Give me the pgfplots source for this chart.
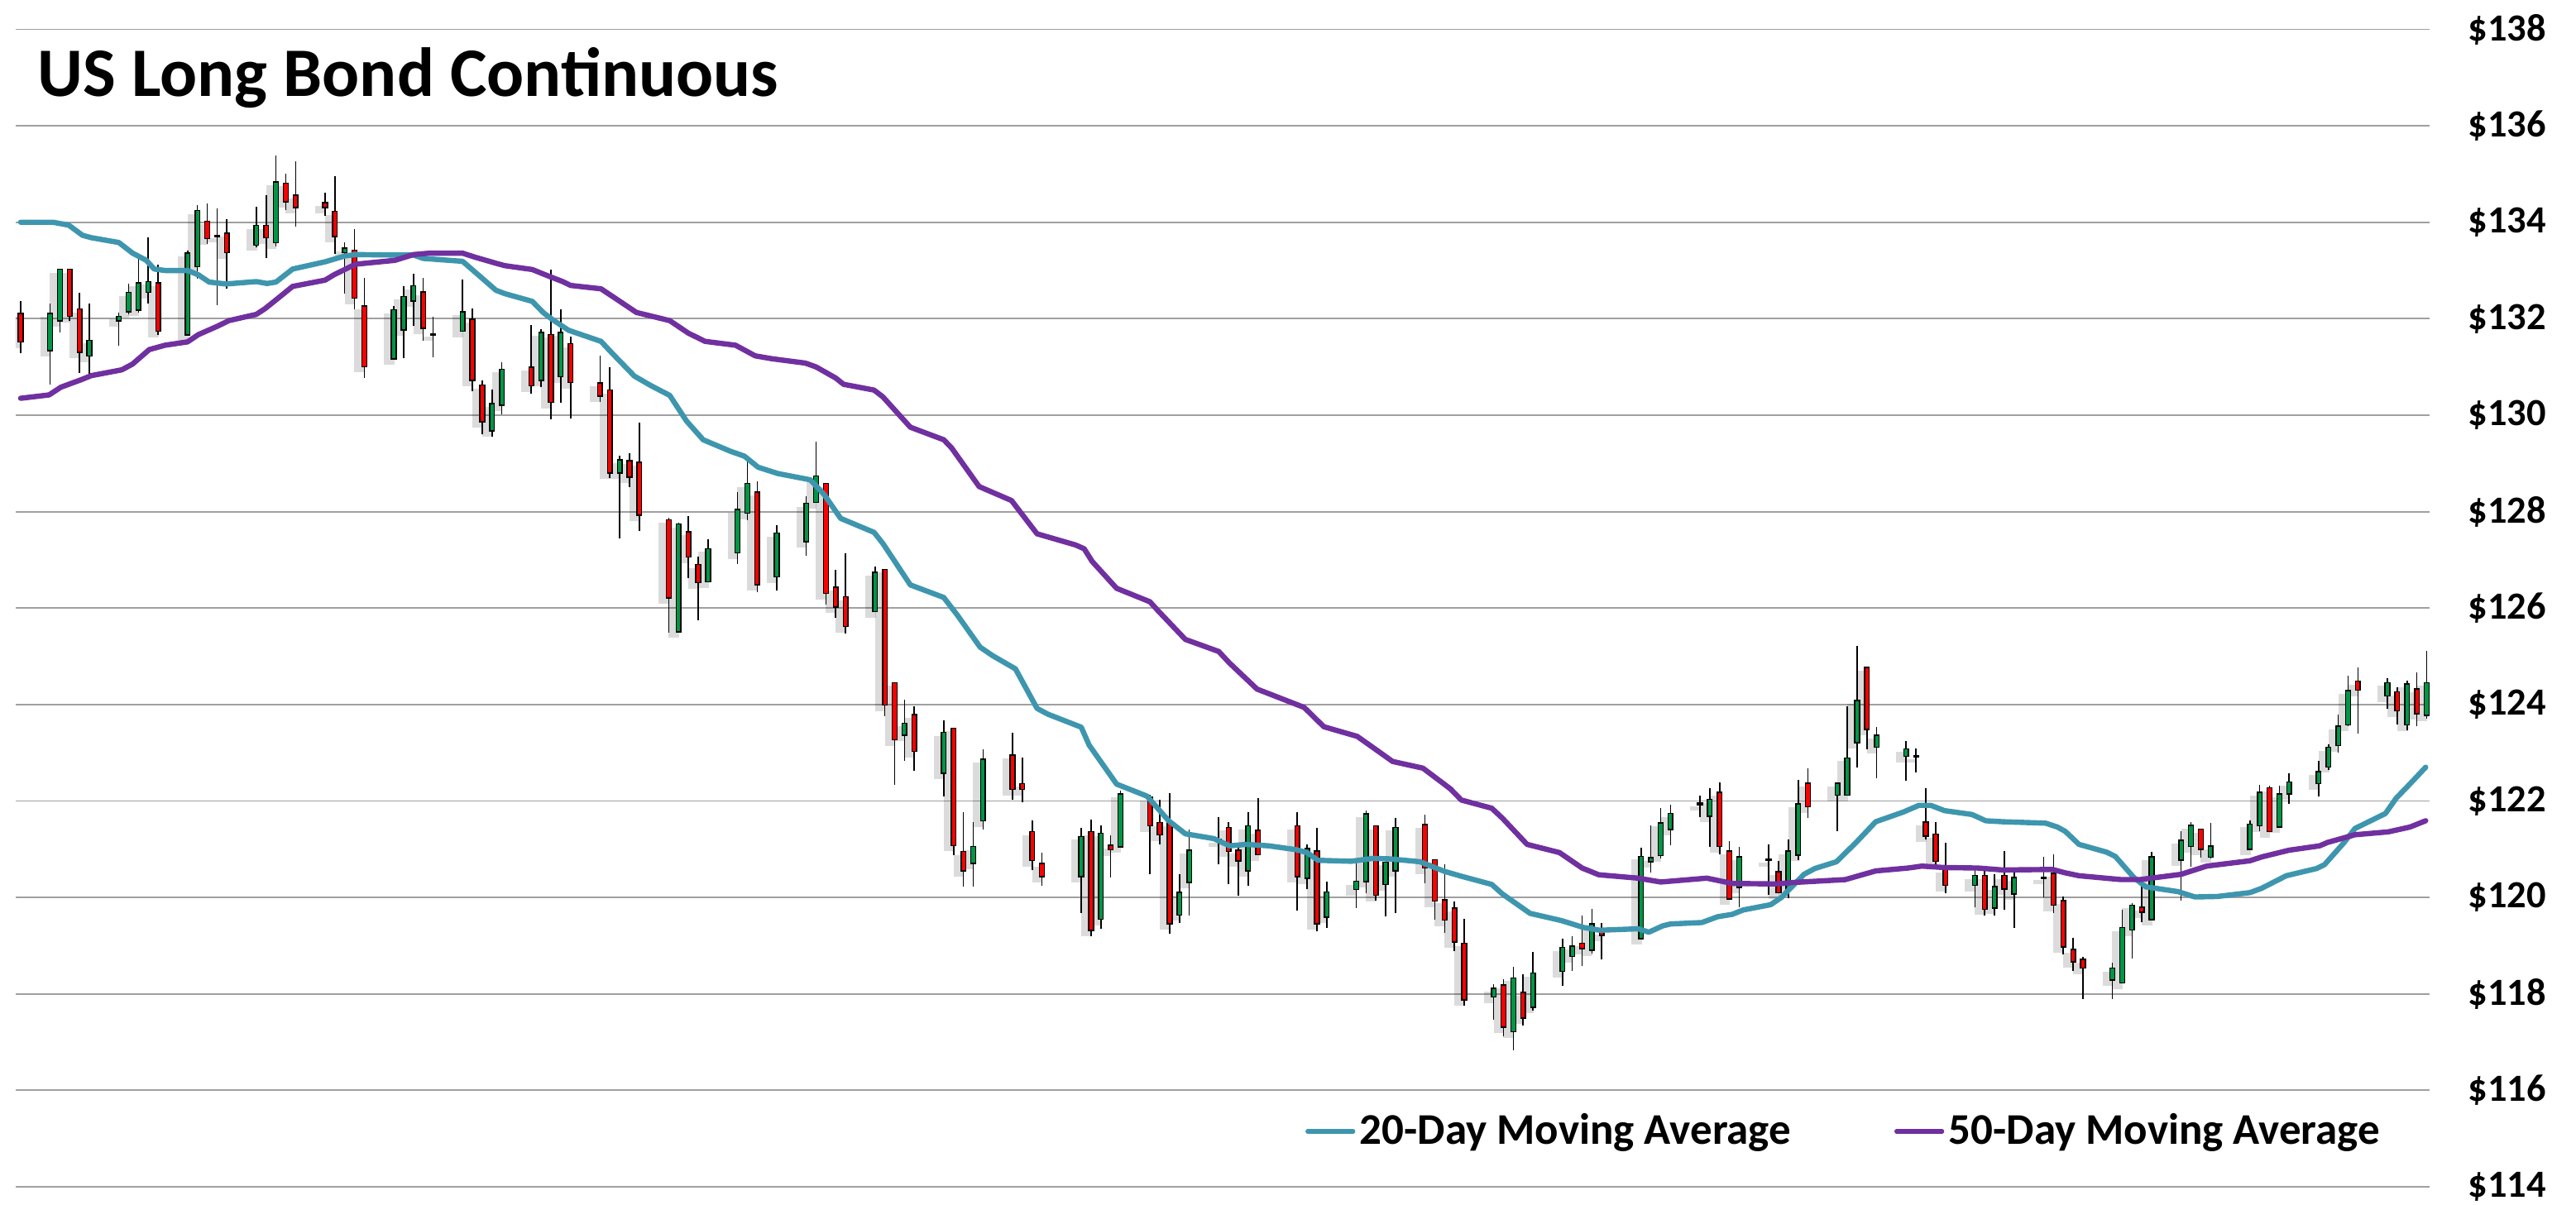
\documentclass[border=0pt]{standalone}
\usepackage{pgfplots}
\pgfplotsset{compat=1.18}
\usepackage{pgfplotstable}
\usepackage{fontspec}
\setmainfont{Carlito}
\definecolor{maTeal}{RGB}{62,150,174}
\definecolor{maPurple}{RGB}{112,48,160}
\definecolor{cGreen}{RGB}{0,150,70}
\definecolor{cRed}{RGB}{255,0,0}
\definecolor{gridgray}{RGB}{160,160,160}

\pgfplotstableread{
d O H L C
3 131.35 132.32 130.64 132.10
4 131.97 133.01 131.72 133.01
7 131.24 132.32 130.83 131.54
10 131.97 132.12 131.44 132.04
11 132.16 132.72 132.10 132.53
12 132.19 133.29 132.12 132.73
13 132.56 133.69 132.32 132.76
17 131.68 133.42 131.67 133.35
18 133.09 134.35 132.83 134.23
20 133.72 134.29 132.28 133.72
24 133.54 134.32 133.48 133.92
26 133.59 135.39 133.50 134.82
33 133.38 133.59 132.52 133.45
38 131.18 132.26 131.15 132.17
39 131.78 132.68 131.19 132.45
40 132.38 132.93 131.85 132.67
42 131.68 132.04 131.20 131.68
45 131.75 132.82 131.74 132.13
48 129.69 130.53 129.56 130.23
49 130.22 131.09 130.01 130.94
53 130.73 131.79 130.59 131.70
55 130.81 132.20 130.26 131.70
61 128.81 129.16 127.44 129.06
67 125.52 127.77 125.51 127.73
70 126.56 127.43 126.54 127.22
73 127.16 128.40 126.92 128.03
74 127.98 129.06 127.83 128.57
77 126.66 127.72 126.36 127.54
80 127.39 128.32 127.08 128.16
81 128.20 129.45 128.18 128.73
87 125.94 126.87 125.92 126.73
90 123.38 124.10 122.83 123.60
94 122.59 123.68 122.10 123.41
97 120.72 121.56 120.22 121.04
98 121.60 123.07 121.41 122.85
108 120.44 121.45 119.68 121.25
110 119.56 121.50 119.35 121.32
112 121.06 122.21 121.04 122.13
118 119.65 120.48 119.47 120.09
119 120.32 121.41 119.62 120.97
122 121.19 121.66 120.69 121.19
125 120.56 121.76 120.25 121.47
131 120.41 121.10 120.17 121.00
133 119.60 120.32 119.36 120.10
136 120.18 120.70 119.78 120.32
137 120.34 121.81 120.08 121.72
139 120.28 120.72 119.61 120.72
140 120.56 121.64 119.67 121.44
150 117.95 118.21 117.46 118.10
152 117.23 118.56 116.83 118.32
154 117.73 118.87 117.66 118.42
157 118.48 119.15 118.17 118.95
158 118.79 119.19 118.48 118.98
160 118.92 119.77 118.83 119.44
165 119.16 121.03 119.13 120.84
166 120.75 121.49 120.51 120.81
167 120.88 121.86 120.81 121.53
168 121.42 121.93 121.08 121.73
171 121.94 122.11 121.67 121.94
172 121.70 122.26 121.05 122.02
175 120.22 121.04 119.79 120.83
178 120.78 121.10 120.05 120.78
180 120.17 121.20 119.99 120.95
181 120.89 122.43 120.77 121.93
185 122.13 122.36 121.38 122.36
186 122.13 123.96 122.13 122.88
187 123.22 125.22 122.69 124.07
189 123.13 123.53 122.48 123.35
192 122.94 123.24 122.42 123.07
193 122.93 123.09 122.60 122.93
199 120.26 120.57 119.79 120.44
201 119.79 120.49 119.62 120.21
203 120.08 120.51 119.36 120.40
206 120.41 120.85 120.01 120.41
213 118.30 118.65 117.90 118.52
214 118.24 119.74 118.22 119.36
215 119.34 119.89 118.73 119.83
217 119.55 120.94 119.54 120.83
220 120.79 121.37 119.94 121.17
221 121.07 121.57 120.64 121.48
223 120.85 121.55 120.81 121.05
227 121.01 121.60 120.99 121.51
228 121.50 122.34 121.37 122.17
230 121.47 122.32 121.46 122.13
231 122.16 122.57 121.94 122.38
234 122.37 122.84 122.09 122.60
235 122.72 123.17 122.64 123.10
236 123.16 123.79 123.00 123.54
237 123.59 124.60 123.56 124.28
241 124.19 124.55 123.92 124.44
243 123.59 124.49 123.46 124.41
245 123.79 125.11 123.71 124.44
}\greencandles

\pgfplotstableread{
d O H L C
0 132.10 132.37 131.29 131.53
5 133.01 133.01 131.96 132.06
6 132.19 132.53 130.88 131.32
14 132.73 133.12 131.67 131.75
19 134.01 134.39 133.55 133.67
21 133.76 134.06 132.62 133.38
25 133.92 134.56 133.25 133.69
27 134.80 135.01 134.25 134.44
28 134.55 135.27 133.91 134.32
31 134.39 134.61 134.14 134.32
32 134.21 134.95 133.35 133.72
34 133.41 133.85 132.20 132.44
35 132.25 132.84 130.78 131.02
41 132.54 132.84 131.55 131.81
46 131.98 132.21 130.50 130.73
47 130.61 130.72 129.60 129.88
52 130.98 131.87 130.44 130.62
54 131.66 133.01 129.91 130.28
56 131.47 131.63 129.93 130.69
59 130.66 131.23 130.28 130.41
60 130.51 130.99 128.69 128.81
62 129.04 129.21 128.51 128.73
63 129.01 129.85 127.60 127.94
66 127.82 127.87 125.49 126.22
68 127.57 127.91 126.63 127.07
69 126.89 127.06 125.74 126.54
75 128.39 128.63 126.33 126.50
82 128.57 128.57 126.07 126.32
83 126.42 126.79 125.80 126.03
84 126.22 127.13 125.48 125.63
88 126.79 126.79 123.76 124.00
89 124.44 124.44 122.34 123.28
91 123.78 123.96 122.63 123.04
95 123.50 123.50 120.88 121.09
96 120.94 121.77 120.22 120.56
101 122.94 123.41 122.02 122.25
102 122.35 122.90 121.97 122.25
103 121.35 121.60 120.57 120.78
104 120.69 120.93 120.24 120.44
109 121.35 121.62 119.19 119.33
111 121.07 121.28 120.41 121.00
115 122.07 122.13 120.48 121.50
116 121.54 122.02 121.10 121.31
117 121.54 122.16 119.25 119.47
123 121.44 121.56 120.28 120.97
124 120.97 121.13 120.04 120.77
126 121.38 122.06 120.90 120.90
130 121.47 121.76 119.72 120.44
132 120.95 121.44 119.30 119.47
138 121.47 121.47 119.94 120.06
143 121.50 121.71 120.29 120.62
144 120.77 120.77 119.54 119.94
145 119.94 120.68 119.27 119.54
146 119.77 119.91 118.88 119.09
147 119.04 119.56 117.75 117.89
151 118.17 118.31 117.12 117.32
153 118.02 118.41 117.34 117.51
159 119.04 119.63 118.58 118.95
161 119.28 119.47 118.71 119.23
173 122.17 122.38 120.89 121.07
174 120.95 121.16 119.95 119.98
179 120.52 120.75 120.08 120.11
182 122.36 122.67 121.64 121.89
188 124.76 124.76 123.08 123.50
194 121.55 122.26 121.20 121.28
195 121.30 121.57 120.68 120.76
196 120.58 121.14 120.08 120.26
200 120.44 120.64 119.62 119.77
202 120.44 120.97 119.74 120.19
207 120.49 120.89 119.68 119.85
208 119.92 120.02 118.82 118.99
209 118.91 119.17 118.48 118.68
210 118.70 118.76 117.90 118.55
216 119.78 120.28 119.49 119.71
222 121.40 121.40 120.83 121.01
229 122.26 122.32 121.37 121.38
238 124.47 124.77 123.39 124.31
242 124.25 124.35 123.58 123.88
244 124.31 124.66 123.55 123.82
}\redcandles

\pgfplotsset{
  candle/.style={draw=none, mark=none, forget plot,
    error bars/.cd, y dir=plus, y explicit, error mark=none,
    error bar style={#1}},
}

\begin{document}
\begin{tikzpicture}
\path[use as bounding box] (0pt,0pt) rectangle (778.5pt,364pt);
\begin{axis}[
  at={(4.75pt,5.25pt)}, anchor=south west,
  scale only axis, width=729.5pt, height=349.875pt,
  xmin=-0.5, xmax=245.3, ymin=114, ymax=138,
  axis line style={draw=none},
  tick style={draw=none},
  major tick length=0pt,
  xtick=\empty,
  ytick={114,116,118,120,122,124,126,128,130,132,134,136,138},
  yticklabels={\$114,\$116,\$118,\$120,\$122,\$124,\$126,\$128,\$130,\$132,\$134,\$136,\$138},
  yticklabel pos=right,
  yticklabel style={anchor=west, inner sep=0pt, xshift=11.5pt, font=\bfseries\fontsize{11.6}{13}\selectfont, text=black},
  ymajorgrids,
  major grid style={draw=gridgray, line width=0.45pt},
  legend columns=2,
  legend style={at={(axis description cs:0.5343,0.0479)}, anchor=west, draw=none, fill=none,
    inner sep=0pt, outer sep=0pt, nodes={inner sep=0pt},
    font=\bfseries\fontsize{13.25}{15}\selectfont,
    /tikz/every even column/.append style={column sep=31.25pt}},
  legend image code/.code={\draw[#1, line width=1.3pt, line cap=round] (0pt,0pt) -- (13.75pt,0pt); \path (15pt,-2pt);},
]
% shadows
\addplot[candle={draw=black, draw opacity=0.14, line width=3.2pt, xshift=-1.4pt, yshift=-1.4pt}]
  table[x=d, y expr=\thisrow{O}-0.04, y error plus expr=\thisrow{C}-\thisrow{O}+0.08] {\greencandles};
\addplot[candle={draw=black, draw opacity=0.14, line width=3.2pt, xshift=-1.4pt, yshift=-1.4pt}]
  table[x=d, y expr=\thisrow{C}-0.04, y error plus expr=\thisrow{O}-\thisrow{C}+0.08] {\redcandles};
% wicks
\addplot[candle={draw=black, line width=0.4pt}]
  table[x=d, y=L, y error plus expr=\thisrow{H}-\thisrow{L}] {\greencandles};
\addplot[candle={draw=black, line width=0.4pt}]
  table[x=d, y=L, y error plus expr=\thisrow{H}-\thisrow{L}] {\redcandles};
% body borders
\addplot[candle={draw=black, line width=1.8pt}]
  table[x=d, y expr=\thisrow{O}-0.026, y error plus expr=\thisrow{C}-\thisrow{O}+0.052] {\greencandles};
\addplot[candle={draw=black, line width=1.8pt}]
  table[x=d, y expr=\thisrow{C}-0.026, y error plus expr=\thisrow{O}-\thisrow{C}+0.052] {\redcandles};
% body fills
\addplot[candle={draw=cGreen, line width=1.05pt}]
  table[x=d, y=O, y error plus expr=\thisrow{C}-\thisrow{O}] {\greencandles};
\addplot[candle={draw=cRed, line width=1.05pt}]
  table[x=d, y=C, y error plus expr=\thisrow{O}-\thisrow{C}] {\redcandles};
% moving averages
\addplot[maTeal, line width=1.6pt, mark=none, line join=round, line cap=round] coordinates {
(0,134.00) (3.3,134.00) (4.9,133.94) (6.3,133.73) (7.2,133.68) (10,133.58) (11.4,133.36) (12.8,133.21)
(13.6,133.03) (14.7,133.00) (17,133.00) (18.1,132.91) (19.2,132.76) (20.9,132.72) (24,132.77) (25.1,132.73)
(26,132.76) (27.7,133.03) (31,133.18) (33,133.30) (34.1,133.33) (38.1,133.32) (40,133.32) (41,133.25)
(45,133.19) (46.2,132.98) (48.4,132.59) (49.3,132.52) (52.1,132.36) (53.2,132.13) (54.1,131.99) (55.8,131.76)
(59.1,131.53) (60.3,131.27) (62.5,130.81) (64.2,130.61) (66.1,130.41) (67.8,129.88) (69.5,129.49) (72.3,129.25)
(73.7,129.15) (75.1,128.92) (77.1,128.79) (80.4,128.66) (81.8,128.36) (83.5,127.86) (86.9,127.57) (87.8,127.34)
(90.6,126.48) (94,126.22) (95.4,125.85) (97.7,125.19) (99,125.01) (101.3,124.74) (103.5,123.92) (104.6,123.80)
(108,123.53) (108.8,123.16) (111.6,122.35) (114.7,122.10) (116.9,121.59) (118.6,121.32) (121.5,121.22) (123.1,121.07)
(124.8,121.10) (127.1,121.07) (129.9,120.99) (131,120.93) (132.1,120.77) (135.5,120.75) (137.7,120.81) (139.4,120.80)
(142.5,120.74) (145,120.54) (146.7,120.44) (149.8,120.27) (150.9,120.07) (153.7,119.67) (156.9,119.52) (159.1,119.38)
(160.8,119.32) (164.7,119.35) (165.8,119.28) (167.2,119.41) (168,119.45) (171.2,119.48) (172.8,119.60) (174.3,119.65)
(175.4,119.74) (178.2,119.85) (179.3,120.00) (181.6,120.48) (182.7,120.60) (184.9,120.74) (186.9,121.14) (188.9,121.57)
(191.7,121.77) (193.3,121.91) (194.5,121.91) (195.9,121.80) (198.7,121.72) (200.1,121.59) (201.8,121.57) (206.2,121.54)
(207.4,121.46) (208.2,121.37) (209.6,121.10) (212.4,120.94) (213.3,120.85) (215.2,120.41) (216.4,120.22) (219.7,120.12)
(221.4,120.01) (223.7,120.02) (227,120.10) (228.2,120.19) (230.7,120.45) (233.8,120.60) (234.6,120.68) (236.6,121.14)
(237.7,121.43) (240.8,121.74) (241.9,122.06) (243,122.29) (244.9,122.70)
};
\addlegendentry{20-Day Moving Average}
\addplot[maPurple, line width=1.6pt, mark=none, line join=round, line cap=round] coordinates {
(0,130.35) (2.9,130.42) (4.1,130.58) (6.1,130.73) (7.2,130.82) (10.3,130.94) (11.4,131.06) (13.1,131.36)
(14.7,131.45) (17,131.52) (18.1,131.67) (20.1,131.85) (21.2,131.96) (24,132.09) (24.9,132.21) (26,132.39)
(27.7,132.67) (31,132.80) (31.9,132.91) (34.1,133.13) (38.1,133.21) (40,133.33) (41.7,133.36) (45,133.36)
(46.2,133.28) (48.4,133.15) (49.3,133.10) (52.1,133.02) (53.8,132.88) (55.2,132.77) (56,132.69) (59.1,132.62)
(60.8,132.39) (62.7,132.13) (66.1,131.96) (68,131.70) (69.7,131.53) (72.8,131.45) (74.8,131.23) (76.5,131.17)
(79.9,131.08) (81,131.00) (83,130.77) (83.8,130.64) (86.9,130.52) (87.8,130.38) (90.6,129.75) (94,129.49)
(94.8,129.32) (97.6,128.52) (100.9,128.23) (103.5,127.54) (107.4,127.31) (108.3,127.23) (109.1,126.97) (111.6,126.41)
(115,126.13) (115.8,125.95) (118.6,125.35) (122,125.10) (123.1,124.86) (125.9,124.32) (130.7,123.94) (132.7,123.54)
(136.1,123.34) (137.7,123.11) (139.7,122.82) (142.8,122.68) (145.6,122.25) (146.7,122.02) (149.8,121.85) (150.9,121.64)
(153.4,121.10) (156.7,120.93) (159,120.61) (160.7,120.47) (164.7,120.40) (167,120.32) (171.7,120.40) (174.3,120.29)
(178.8,120.28) (180.5,120.31) (185.8,120.37) (188.9,120.55) (192.2,120.61) (193.6,120.65) (195.9,120.62) (199.3,120.61)
(201.8,120.57) (206.9,120.58) (208.2,120.51) (209.6,120.45) (213.9,120.37) (215.8,120.37) (220,120.48) (222.6,120.65)
(227,120.76) (228.2,120.84) (231,120.98) (234.1,121.07) (234.9,121.14) (237.7,121.30) (241.1,121.36) (243.3,121.46)
(244.9,121.59)
};
\addlegendentry{50-Day Moving Average}
\end{axis}
\node[anchor=base west, inner sep=0pt, font=\bfseries\fontsize{21}{25}\selectfont] at (11.25pt,334.75pt) {US Long Bond Continuous};
\end{tikzpicture}
\end{document}
